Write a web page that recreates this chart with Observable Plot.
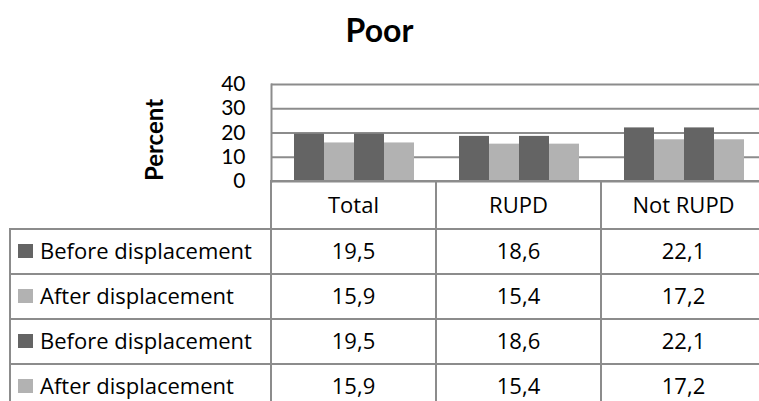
<!DOCTYPE html>
<html><head><meta charset="utf-8">
<script src="https://cdn.jsdelivr.net/npm/d3@7"></script>
<script src="https://cdn.jsdelivr.net/npm/@observablehq/plot@0.6"></script>
<style>
html,body{margin:0;padding:0;background:#fff;}
body{width:759px;height:401px;overflow:hidden;position:relative;font-family:Lato, sans-serif;color:#000;}
#title{position:absolute;left:0;top:11px;width:759px;text-align:center;font-weight:bold;font-size:32px;line-height:1.2;}
#chart{position:absolute;left:0;top:60px;}
#chart svg{overflow:visible;}
#chart svg [aria-label="y-axis tick label"] text{font-size:21px;}
#chart svg [aria-label="y-axis label"] text{font-size:24px;font-weight:bold;}
.cell{position:absolute;box-sizing:border-box;border:2px solid #8c8c8c;display:flex;align-items:center;justify-content:center;font-family:"Open Sans", sans-serif;font-size:22px;white-space:nowrap;background:transparent;padding-bottom:4px;}
.cell.head{padding-bottom:2px;}
.cell.blank{border:none;}
.cell.label{justify-content:flex-start;padding-left:7px;}
.sw{display:inline-block;width:15px;height:14px;margin-right:7px;flex:none;margin-top:3px;}
</style></head><body>
<div id="title">Poor</div>
<div id="chart"></div>
<div id="table"></div>
<script>
// ---- data ----
const categories = ["Total", "RUPD", "Not RUPD"];
const seriesKeys = ["before1", "after1", "before2", "after2"];
const seriesLabels = ["Before displacement", "After displacement", "Before displacement", "After displacement"];
const beforeValues = [19.5, 18.6, 22.1];
const afterValues = [15.9, 15.4, 17.2];
const beforeValues2 = [19.5, 18.6, 22.1];
const afterValues2 = [15.9, 15.4, 17.2];
const yTicks = [0, 10, 20, 30, 40];
const yLabel = "Percent";
const titleText = "Poor";

// ---- styles / layout ----
const seriesColors = ["#646464", "#b2b2b2", "#646464", "#b2b2b2"];
const lineColor = "#8c8c8c";
const W = 759;
const plotLeft = 271, bandW = 165;
const svgTop = 60, plotTop = 84, plotBottom = 181;
const tableLeft = 10;
const rowHeights = [48, 45, 45, 45, 45];

document.getElementById("title").textContent = titleText;

const seriesValues = [beforeValues, afterValues, beforeValues2, afterValues2];
const data = [];
categories.forEach((c, i) => {
  seriesKeys.forEach((k, j) => {
    data.push({category: c, key: k, value: seriesValues[j][i]});
  });
});

const chart = Plot.plot({
  width: W,
  height: plotBottom - svgTop + 2,
  marginLeft: plotLeft,
  marginRight: W - (plotLeft + categories.length * bandW),
  marginTop: plotTop - svgTop,
  marginBottom: 2,
  style: {fontFamily: "Lato, sans-serif", color: "#000", background: "transparent"},
  fx: {domain: categories, padding: 0, axis: null, label: null},
  x: {domain: seriesKeys, paddingInner: 0, paddingOuter: 0.727, axis: null},
  y: {domain: [0, 40], axis: null},
  color: {domain: seriesKeys, range: seriesColors},
  marks: [
    Plot.gridY(yTicks, {stroke: lineColor, strokeOpacity: 1, strokeWidth: 2}),
    Plot.barY(data, {fx: "category", x: "key", y: "value", fill: "key"}),
    Plot.frame({anchor: "left", facetAnchor: "left", stroke: lineColor, strokeWidth: 2}),
    Plot.axisY({ticks: yTicks, tickSize: 0, tickPadding: 26, label: null, fontSize: 21}),
    Plot.axisY({ticks: [], tickSize: 0, label: yLabel, labelAnchor: "center", labelOffset: 126, labelArrow: "none", fontSize: 24, fontWeight: "bold"})
  ]
});
// nudge the axis title down a little (it sits slightly below the plot's centre in the reference)
d3.select(chart).selectAll('[aria-label="y-axis label"] text').each(function() {
  const t = this.getAttribute("transform") || "";
  this.setAttribute("transform", "translate(0,7) " + t);
});
document.getElementById("chart").appendChild(chart);

// ---- data table ----
const colEdges = [tableLeft];
colEdges.push(plotLeft);
categories.forEach((c, i) => colEdges.push(plotLeft + (i + 1) * bandW));
const rowEdges = [plotBottom];
rowHeights.forEach(h => rowEdges.push(rowEdges[rowEdges.length - 1] + h));
const fmt = v => v.toFixed(1).replace(".", ",");
const table = document.getElementById("table");
function cell(r, c, cls) {
  const d = document.createElement("div");
  d.className = "cell" + (cls ? " " + cls : "");
  d.style.left = (colEdges[c] - 1) + "px";
  d.style.top = (rowEdges[r] - 1) + "px";
  d.style.width = (colEdges[c + 1] - colEdges[c] + 2) + "px";
  d.style.height = (rowEdges[r + 1] - rowEdges[r] + 2) + "px";
  table.appendChild(d);
  return d;
}
cell(0, 0, "blank");
categories.forEach((c, i) => { cell(0, i + 1, "head").textContent = c; });
seriesKeys.forEach((k, j) => {
  const lab = cell(j + 1, 0, "label");
  const sw = document.createElement("span");
  sw.className = "sw";
  sw.style.background = seriesColors[j];
  lab.appendChild(sw);
  lab.appendChild(document.createTextNode(seriesLabels[j]));
  categories.forEach((c, i) => { cell(j + 1, i + 1).textContent = fmt(seriesValues[j][i]); });
});
</script>
</body></html>
